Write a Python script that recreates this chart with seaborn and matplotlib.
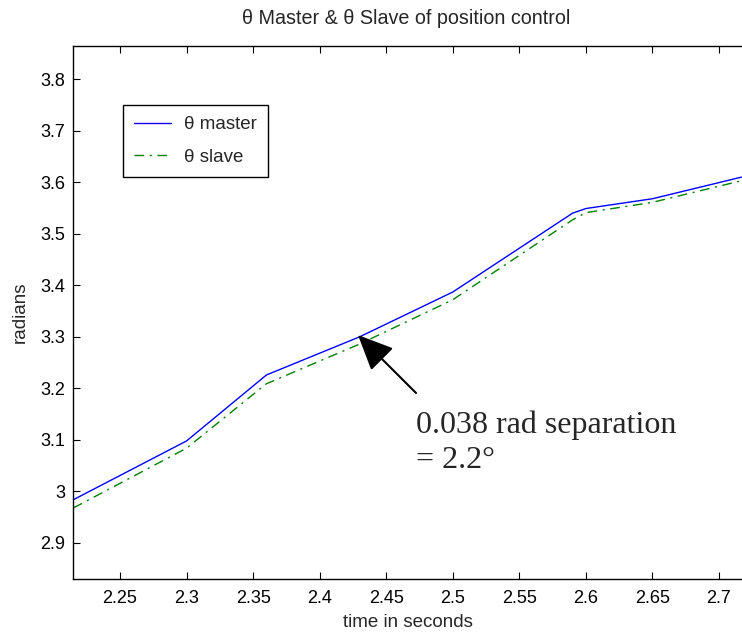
import matplotlib
matplotlib.use("Agg")
import matplotlib.pyplot as plt
import seaborn as sns
import pandas as pd
from matplotlib.ticker import FuncFormatter
from matplotlib.lines import Line2D

# ---- data ----
time_s = [2.215, 2.300, 2.360, 2.430, 2.500, 2.590, 2.600, 2.650, 2.717]
theta_master = [2.984, 3.098, 3.226, 3.300, 3.387, 3.540, 3.549, 3.568, 3.610]
theta_slave = [2.968, 3.084, 3.209, 3.286, 3.372, 3.527, 3.541, 3.561, 3.603]
series_names = ["\u03b8 master", "\u03b8 slave"]
x_ticks = [2.25, 2.3, 2.35, 2.4, 2.45, 2.5, 2.55, 2.6, 2.65, 2.7]
y_ticks = [2.9, 3.0, 3.1, 3.2, 3.3, 3.4, 3.5, 3.6, 3.7, 3.8]

df = pd.concat([
    pd.DataFrame({"time": time_s, "value": theta_master, "series": series_names[0]}),
    pd.DataFrame({"time": time_s, "value": theta_slave, "series": series_names[1]}),
])

sns.set_style("ticks")
plt.rcParams["font.family"] = ["Liberation Sans", "DejaVu Sans"]

fig = plt.figure(figsize=(7.42, 6.36), dpi=100)
W, H = 742, 636
left, top, bottom, right = 73.3, 45.7, 579.3, 742
ax = fig.add_axes([left / W, 1 - bottom / H, (right - left) / W, (bottom - top) / H])

slave_dash = (7, 4, 1.5, 4)
sns.lineplot(
    data=df, x="time", y="value", hue="series", style="series",
    palette={series_names[0]: "#0000ff", series_names[1]: "#008000"},
    dashes={series_names[0]: "", series_names[1]: slave_dash},
    linewidth=1.0, ax=ax, legend=False, sort=False,
)

ax.set_xlim(2.2149, 2.7173)
ax.set_ylim(2.8295, 3.865)
ax.set_xticks(x_ticks)
ax.set_yticks(y_ticks)
ax.xaxis.set_major_formatter(FuncFormatter(lambda v, p: f"{v:g}"))
ax.yaxis.set_major_formatter(FuncFormatter(lambda v, p: f"{v:g}"))
ax.tick_params(axis="both", which="both", direction="in", length=5, width=0.8,
               labelsize=13, colors="black", top=True, right=False, pad=6)
ax.tick_params(axis="x", pad=8)
for s in ["left", "bottom", "top"]:
    ax.spines[s].set_color("black")
    ax.spines[s].set_linewidth(1.0)
    ax.spines[s].set_visible(True)
ax.spines["right"].set_visible(False)

ax.set_xlabel("time in seconds", fontsize=13.5, labelpad=5)
ax.set_ylabel("radians", fontsize=13.5, labelpad=8)
fig.text(406 / W, 1 - 18 / H, "\u03b8 Master & \u03b8 Slave of position control",
         ha="center", va="center", fontsize=14.2)

# legend
handles = [
    Line2D([], [], color="#0000ff", lw=1.0),
    Line2D([], [], color="#008000", lw=1.0, dashes=slave_dash),
]
leg = ax.legend(handles, series_names, loc="upper left",
                bbox_to_anchor=(123 / W, 1 - 105 / H), bbox_transform=fig.transFigure,
                borderaxespad=0, fancybox=False, framealpha=1, edgecolor="black",
                fontsize=13.5, handlelength=1.95, handletextpad=0.7,
                borderpad=0.6, labelspacing=0.8)
leg.get_frame().set_linewidth(1.0)

# annotation arrow and text
ax.annotate("", xy=(2.4288, 3.3035), xytext=(2.4724, 3.191),
            arrowprops=dict(arrowstyle="-|>,head_length=1.0,head_width=0.45",
                            mutation_scale=22, lw=1.5, color="black",
                            shrinkA=0, shrinkB=0))
ax.text(2.4724, 3.158, "0.038 rad separation\n= 2.2\u00b0", ha="left", va="top",
        fontsize=23, family=["Liberation Serif", "DejaVu Serif"], linespacing=1.3)

fig.savefig("out.png", dpi=100)
